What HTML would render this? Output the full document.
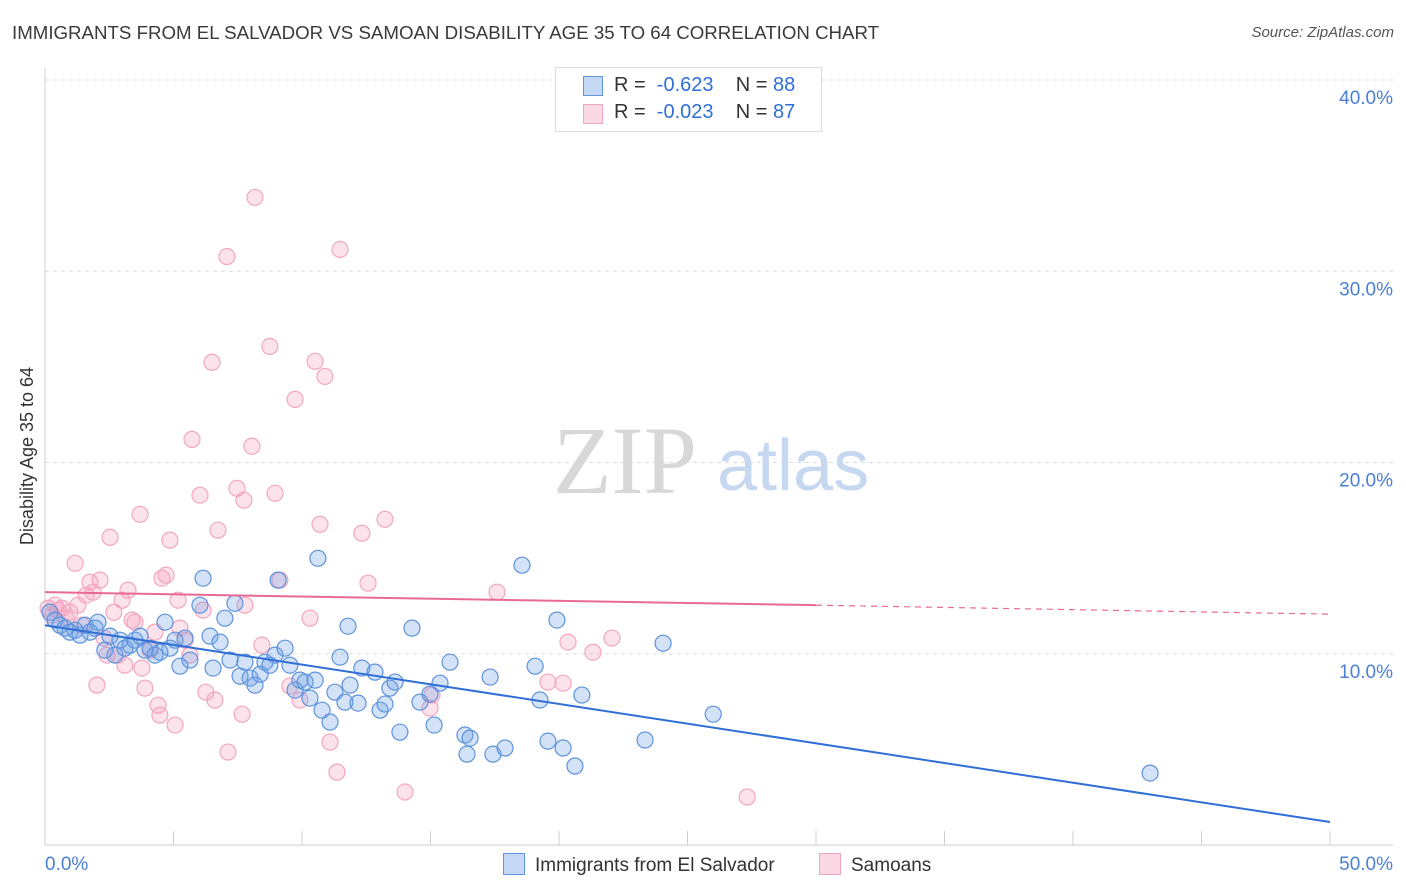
<!DOCTYPE html>
<html><head><meta charset="utf-8"><style>
body{margin:0;background:#fff;font-family:"Liberation Sans",sans-serif;}
#wrap{position:relative;width:1406px;height:892px;overflow:hidden;}
.t{position:absolute;white-space:nowrap;}
</style></head><body>
<div id="wrap">
<div class="t" style="left:12px;top:22px;font-size:18.7px;color:#3a3a3a;">IMMIGRANTS FROM EL SALVADOR VS SAMOAN DISABILITY AGE 35 TO 64 CORRELATION CHART</div>
<div class="t" style="right:12px;top:24px;font-size:15px;color:#555;font-style:italic;">Source: ZipAtlas.com</div>
<svg id="svg" width="1406" height="892" style="position:absolute;left:0;top:0"></svg>
</div>
<script>
const yTicks=[10,20,30,40];
const yTickLabels=["10.0%","20.0%","30.0%","40.0%"];
const xTickLabels=["0.0%","50.0%"];
const blueX=[0.19,0.39,0.58,0.78,0.97,1.17,1.36,1.56,1.75,1.95,2.06,2.33,2.53,2.72,2.92,3.11,3.31,3.50,3.70,3.89,4.09,4.28,4.47,4.67,4.86,5.06,5.25,5.45,5.64,6.03,6.15,6.42,6.54,6.81,7.00,7.20,7.39,7.59,7.78,7.98,8.17,8.37,8.56,8.75,8.95,9.07,9.34,9.53,9.73,9.92,10.12,10.31,10.51,10.62,10.78,11.09,11.28,11.48,11.67,11.79,11.87,12.18,12.33,12.84,13.04,13.23,13.42,13.62,13.81,14.28,14.59,14.98,15.14,15.37,15.76,16.34,16.42,16.54,17.32,17.43,17.90,18.56,19.07,19.26,19.57,19.92,20.16,20.62,20.89,23.35,24.05,26.00,43.00];
const blueY=[12.17,11.76,11.49,11.34,11.13,11.23,10.97,11.49,11.13,11.34,11.65,10.19,10.92,9.93,10.71,10.29,10.45,10.71,10.92,10.19,10.29,9.93,10.08,11.65,10.29,10.71,9.35,10.82,9.67,12.54,13.95,10.92,9.25,10.61,11.86,9.67,12.64,8.83,9.56,8.73,8.36,8.93,9.56,9.40,9.93,13.85,10.29,9.40,8.10,8.62,8.52,7.68,8.62,14.99,7.05,6.43,7.99,9.82,7.47,11.44,8.36,7.42,9.25,9.04,7.05,7.37,8.20,8.52,5.90,11.34,7.47,7.89,6.27,8.46,9.56,5.75,4.75,5.59,8.78,4.75,5.07,14.63,9.35,7.58,5.43,11.76,5.07,4.13,7.84,5.49,10.55,6.84,3.76];
const pinkX=[0.12,0.27,0.39,0.51,0.66,0.82,0.97,1.17,1.28,1.44,1.60,1.75,1.87,2.02,2.14,2.30,2.41,2.53,2.68,2.84,3.00,3.11,3.23,3.39,3.50,3.70,3.77,3.89,4.09,4.28,4.40,4.47,4.55,4.71,4.86,5.06,5.18,5.25,5.45,5.64,5.72,6.03,6.15,6.26,6.50,6.61,6.73,7.08,7.12,7.47,7.67,7.74,7.78,8.05,8.17,8.44,8.75,8.95,9.14,9.53,9.73,9.92,10.31,10.51,10.70,10.89,11.09,11.36,11.48,12.33,12.57,13.23,14.01,14.98,15.06,17.59,19.57,20.16,20.35,21.32,22.06,27.32];
const pinkY=[12.38,12.02,12.54,12.28,12.38,11.86,12.17,14.73,12.54,11.49,13.06,13.74,13.22,8.36,13.85,10.82,9.93,16.09,12.17,9.93,12.80,9.40,13.32,11.76,11.65,17.29,9.25,8.20,10.19,11.13,7.31,6.79,13.95,14.11,15.94,6.27,12.80,11.34,10.71,9.93,21.21,18.29,12.28,7.99,25.24,7.58,16.46,30.77,4.86,18.65,6.84,18.03,12.54,20.85,33.86,10.45,26.07,18.39,13.85,8.31,23.30,7.58,11.86,25.29,16.77,24.50,5.38,3.81,31.14,16.30,13.69,17.03,2.77,7.16,7.84,13.22,8.52,8.46,10.61,10.08,10.82,2.51];
const blueTrend=[11.49,1.2];
const pinkTrend=[13.22,12.54,12.07];
const pinkTrendX=[0,30,50];

const X0=45,XW=1285,Y0=845,YH=765;
function sx(v){return X0+v/50*XW;}
function sy(v){return Y0-v/40*YH;}
const svg=document.getElementById('svg');
const NS='http://www.w3.org/2000/svg';
function mk(tag,attrs){const e=document.createElementNS(NS,tag);for(const k in attrs)e.setAttribute(k,attrs[k]);svg.appendChild(e);return e;}

yTicks.forEach((t,i)=>{
  const g=mk('line',{x1:X0,x2:1393,y1:sy(t),y2:sy(t),stroke:'#dcdcdc','stroke-dasharray':'4,4','stroke-width':1});
  
  
  const l=mk('text',{x:1393,y:sy(t)+24,'text-anchor':'end','font-size':19,fill:'#4a7fd4','font-family':'Liberation Sans, sans-serif'});
  l.textContent=yTickLabels[i];
  
  
});
const ya=mk('line',{x1:X0,x2:X0,y1:68,y2:Y0,stroke:'#cfcfcf'});


const xa=mk('line',{x1:X0,x2:1393,y1:Y0,y2:Y0,stroke:'#cfcfcf'});


for(let i=0;i<=10;i++){
  const tk=mk('line',{x1:sx(i*5),x2:sx(i*5),y1:831,y2:Y0,stroke:'#cfcfcf'});
  
  
}
[[0,'start',X0],[1,'end',1393]].forEach(([i,a,x])=>{
  const l=mk('text',{x:x,y:870,'text-anchor':a,'font-size':19,fill:'#4a7fd4','font-family':'Liberation Sans, sans-serif'});
  l.textContent=xTickLabels[i];
  
  
});
const yt=mk('text',{x:33,y:456,transform:'rotate(-90 33 456)','text-anchor':'middle','font-size':18,fill:'#333','font-family':'Liberation Sans, sans-serif'});
yt.textContent='Disability Age 35 to 64';


const w1=mk('text',{x:553,y:493,'font-size':96,fill:'#d8d8d8','font-family':'Liberation Serif, serif'});
w1.textContent='ZIP';


const w2=mk('text',{x:717,y:490,'font-size':72,fill:'#c5d8f0','font-family':'Liberation Sans, sans-serif'});
w2.textContent='atlas';


pinkX.forEach((x,i)=>{
  const c=mk('circle',{cx:sx(x),cy:sy(pinkY[i]),r:8,fill:'rgba(244,160,188,0.3)',stroke:'#f2a7bf','stroke-width':1.2});
  
  
});
blueX.forEach((x,i)=>{
  const c=mk('circle',{cx:sx(x),cy:sy(blueY[i]),r:8,fill:'rgba(110,160,230,0.3)',stroke:'#5e93dd','stroke-width':1.2});
  
  
});
const bt=mk('line',{x1:sx(0),y1:sy(blueTrend[0]),x2:sx(50),y2:sy(blueTrend[1]),stroke:'#2f6fd6','stroke-width':2});


const pt=mk('line',{x1:sx(pinkTrendX[0]),y1:sy(pinkTrend[0]),x2:sx(pinkTrendX[1]),y2:sy(pinkTrend[1]),stroke:'#e86a94','stroke-width':2});


const pd=mk('line',{x1:sx(pinkTrendX[1]),y1:sy(pinkTrend[1]),x2:sx(pinkTrendX[2]),y2:sy(pinkTrend[2]),stroke:'#e86a94','stroke-width':1.2,'stroke-dasharray':'6,5'});


</script>
<div class="t" style="left:555px;top:67px;width:265px;height:63px;border:1px solid #ddd;background:#fff;font-size:20px;color:#333;">
  <div style="position:absolute;left:27px;top:8px;width:18px;height:18px;background:rgba(110,160,230,0.4);border:1px solid #5e93dd;"></div>
  <div style="position:absolute;left:58px;top:6px;">R = <span style="color:#2f6fd6">&nbsp;-0.623</span>&nbsp;&nbsp;&nbsp;&nbsp;N = <span style="color:#2f6fd6">88</span></div>
  <div style="position:absolute;left:27px;top:36px;width:18px;height:18px;background:rgba(244,160,188,0.4);border:1px solid #f2a7bf;"></div>
  <div style="position:absolute;left:58px;top:33px;">R = <span style="color:#2f6fd6">&nbsp;-0.023</span>&nbsp;&nbsp;&nbsp;&nbsp;N = <span style="color:#2f6fd6">87</span></div>
</div>
<div class="t" style="left:503px;top:853px;font-size:19px;color:#333;">
  <span style="display:inline-block;width:20px;height:20px;background:rgba(110,160,230,0.4);border:1px solid #5e93dd;vertical-align:-4px;margin-right:10px;"></span>Immigrants from El Salvador</div>
<div class="t" style="left:819px;top:853px;font-size:19px;color:#333;">
  <span style="display:inline-block;width:20px;height:20px;background:rgba(244,160,188,0.4);border:1px solid #f2a7bf;vertical-align:-4px;margin-right:10px;"></span>Samoans</div>
</body></html>
